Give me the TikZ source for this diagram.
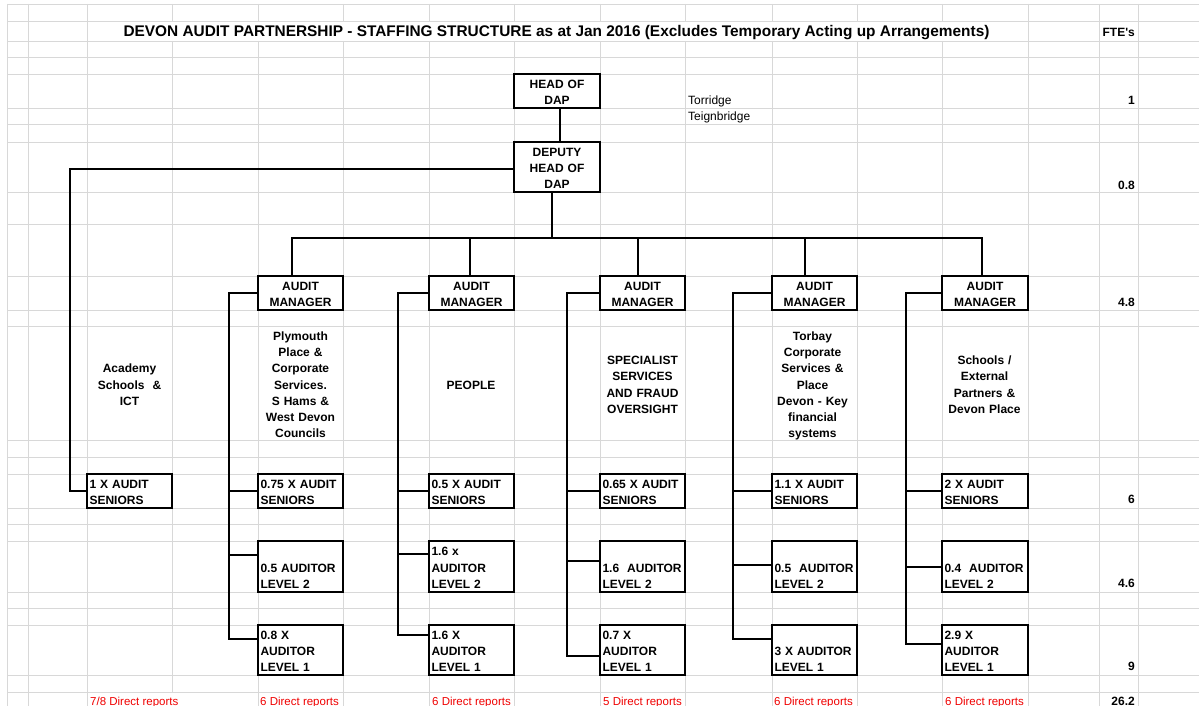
\documentclass[tikz,border=0pt]{standalone}
\usepackage{fontspec}
\setmainfont{Liberation Sans}
\newfontfamily\arialf{Liberation Sans}
\newcommand\srt{\rule[-2.6pt]{0pt}{16.3pt}}
\definecolor{gridc}{RGB}{216,216,216}
\definecolor{redtxt}{RGB}{240,0,0}
\begin{document}
\begin{tikzpicture}[x=1pt,y=-1pt,
  gridline/.style={line width=0.9pt, draw=gridc},
  boxbase/.style={draw, line width=2.2pt, fill=white, inner sep=0pt, minimum width=85pt,
    text width=80pt, inner xsep=2.5pt,
    font=\bfseries\fontsize{12}{16.3}\selectfont,
    execute at begin node=\srt, execute at end node=\srt},
  cbox/.style={boxbase, align=center},
  lbox/.style={boxbase, align=left},
  desc/.style={inner sep=0pt, text width=85pt, align=center, font=\bfseries\fontsize{12}{16.3}\selectfont,
    execute at begin node=\srt, execute at end node=\srt},
  conn/.style={line width=2.9pt},
  fte/.style={anchor=base east, inner sep=0pt, font=\arialf\bfseries\fontsize{12}{14}\selectfont},
  note/.style={anchor=base west, inner sep=0pt, font=\fontsize{12}{14}\selectfont},
  reports/.style={anchor=base west, inner sep=0pt, text=redtxt, font=\fontsize{11.5}{14}\selectfont}
]
\fill[white] (0,0) rectangle (1199,706);
\useasboundingbox (0,0) rectangle (1199,706);

% spreadsheet grid
\foreach \yy in {4,21,41,57,74,108,124,142,192,224,276,310,326,440,457,474,508,524,541,592,608,625,675,692}
  \draw[gridline] (7,\yy) -- (1199,\yy);
\foreach \xx in {7,28,87,1028,1099,1138}
  \draw[gridline] (\xx,4) -- (\xx,706);
\foreach \xx in {258,343,429,514,600,685,772,857,942}
  {\draw[gridline] (\xx,4) -- (\xx,21); \draw[gridline] (\xx,41) -- (\xx,706);}
\draw[gridline] (172,4) -- (172,21);
\draw[gridline] (172,41) -- (172,692);

% title and side texts
\node[anchor=base, inner sep=0pt, font=\bfseries\fontsize{15.4}{18}\selectfont] (title) at (556.5,37)
  {DEVON AUDIT PARTNERSHIP - STAFFING STRUCTURE as at Jan 2016 (Excludes Temporary Acting up Arrangements)};
\node[fte] (fteh) at (1135,37) {FTE's};
\node[fte] (f1) at (1135,104.3) {1};
\node[fte] (f2) at (1135,189.3) {0.8};
\node[fte] (f3) at (1135,306.3) {4.8};
\node[fte] (f4) at (1135,503.3) {6};
\node[fte] (f5) at (1135,587.3) {4.6};
\node[fte] (f6) at (1135,670.3) {9};
\node[fte] (f7) at (1135,705.3) {26.2};
\node[note] (tor) at (688,104.3) {Torridge};
\node[note] (tei) at (688,120.5) {Teignbridge};

% top boxes
\node[cbox, minimum width=86pt, text width=81pt, minimum height=34pt] (head) at (557,91) {HEAD OF\\DAP};
\node[cbox, minimum width=86pt, text width=81pt, minimum height=50pt] (dep) at (557,167) {DEPUTY\\HEAD OF\\DAP};

% managers
\node[cbox, minimum height=34pt] (m1) at (300.5,293) {AUDIT\\MANAGER};
\node[cbox, minimum height=34pt] (m2) at (471.5,293) {AUDIT\\MANAGER};
\node[cbox, minimum height=34pt] (m3) at (642.5,293) {AUDIT\\MANAGER};
\node[cbox, minimum height=34pt] (m4) at (814.5,293) {AUDIT\\MANAGER};
\node[cbox, minimum height=34pt, minimum width=86pt, text width=81pt] (m5) at (985,293) {AUDIT\\MANAGER};

% descriptions
\node[desc] (d0) at (129.5,383.5) {Academy\\Schools\ \ \&\\ICT};
\node[desc] (d1) at (300.5,383.5) {Plymouth\\Place \&\\Corporate\\Services.\\S Hams \&\\West Devon\\Councils};
\node[desc] (d2) at (471,383.5) {PEOPLE};
\node[desc] (d3) at (642.5,383.5) {SPECIALIST\\SERVICES\\AND FRAUD\\OVERSIGHT};
\node[desc] (d4) at (812.5,383.5) {Torbay\\Corporate\\Services \&\\Place\\Devon - Key\\financial\\systems};
\node[desc] (d5) at (984.5,383.5) {Schools /\\External\\Partners \&\\Devon Place};

% seniors
\node[lbox, minimum height=34pt] (s0) at (129.5,491) {1 X AUDIT\\SENIORS};
\node[lbox, minimum height=34pt] (s1) at (300.5,491) {0.75 X AUDIT\\SENIORS};
\node[lbox, minimum height=34pt] (s2) at (471.5,491) {0.5 X AUDIT\\SENIORS};
\node[lbox, minimum height=34pt] (s3) at (642.5,491) {0.65 X AUDIT\\SENIORS};
\node[lbox, minimum height=34pt] (s4) at (814.5,491) {1.1 X AUDIT\\SENIORS};
\node[lbox, minimum height=34pt, minimum width=86pt, text width=81pt] (s5) at (985,491) {2 X AUDIT\\SENIORS};

% level 2
\node[lbox, minimum height=51pt] (lb1) at (300.5,566.5) {\mbox{}\\0.5 AUDITOR\\LEVEL 2};
\node[lbox, minimum height=51pt] (lb2) at (471.5,566.5) {1.6 x\\AUDITOR\\LEVEL 2};
\node[lbox, minimum height=51pt] (lb3) at (642.5,566.5) {\mbox{}\\1.6\ \ AUDITOR\\LEVEL 2};
\node[lbox, minimum height=51pt] (lb4) at (814.5,566.5) {\mbox{}\\0.5\ \ AUDITOR\\LEVEL 2};
\node[lbox, minimum height=51pt, minimum width=86pt, text width=81pt] (lb5) at (985,566.5) {\mbox{}\\0.4\ \ AUDITOR\\LEVEL 2};

% level 1
\node[lbox, minimum height=50pt] (la1) at (300.5,650) {0.8 X\\AUDITOR\\LEVEL 1};
\node[lbox, minimum height=50pt] (la2) at (471.5,650) {1.6 X\\AUDITOR\\LEVEL 1};
\node[lbox, minimum height=50pt] (la3) at (642.5,650) {0.7 X\\AUDITOR\\LEVEL 1};
\node[lbox, minimum height=50pt] (la4) at (814.5,650) {\mbox{}\\3 X AUDITOR\\LEVEL 1};
\node[lbox, minimum height=50pt, minimum width=86pt, text width=81pt] (la5) at (985,650) {2.9 X\\AUDITOR\\LEVEL 1};

% direct reports
\node[reports] (r0) at (90,705) {7/8 Direct reports};
\node[reports] (r1) at (260,705) {6 Direct reports};
\node[reports] (r2) at (432,705) {6 Direct reports};
\node[reports] (r3) at (603,705) {5 Direct reports};
\node[reports] (r4) at (774,705) {6 Direct reports};
\node[reports] (r5) at (945,705) {6 Direct reports};

% connectors
\draw[conn] ([xshift=3pt]head.south) -- ([xshift=3pt]dep.north);
\coordinate (bend0) at (70,169);
\draw[conn] (dep.west |- bend0) -- (bend0) |- (s0.west);
\coordinate (bus) at (552,238);
\draw[conn] ([xshift=-5pt]dep.south) -- (bus);
\draw[conn] ([xshift=-8.5pt]m1.north) |- ([xshift=-3pt]m5.north |- bus) -- ([xshift=-3pt]m5.north);
\draw[conn] ([xshift=-1.5pt]m2.north |- bus) -- ([xshift=-1.5pt]m2.north);
\draw[conn] ([xshift=-4.5pt]m3.north |- bus) -- ([xshift=-4.5pt]m3.north);
\draw[conn] ([xshift=-9.5pt]m4.north |- bus) -- ([xshift=-9.5pt]m4.north);

\foreach \k/\vx/\ly/\lz in {1/229/555/639, 2/398/554/635, 3/567/561/656, 4/733/565/639, 5/906/567/644}{
  \coordinate (v\k) at (\vx,\lz);
  \coordinate (w\k) at (\vx,\ly);
  \draw[conn] (m\k.west) -| (v\k) -- (v\k -| la\k.west);
  \draw[conn] (v\k |- s\k.west) -- (s\k.west);
  \draw[conn] (w\k) -- (w\k -| lb\k.west);
}
\end{tikzpicture}
\end{document}
